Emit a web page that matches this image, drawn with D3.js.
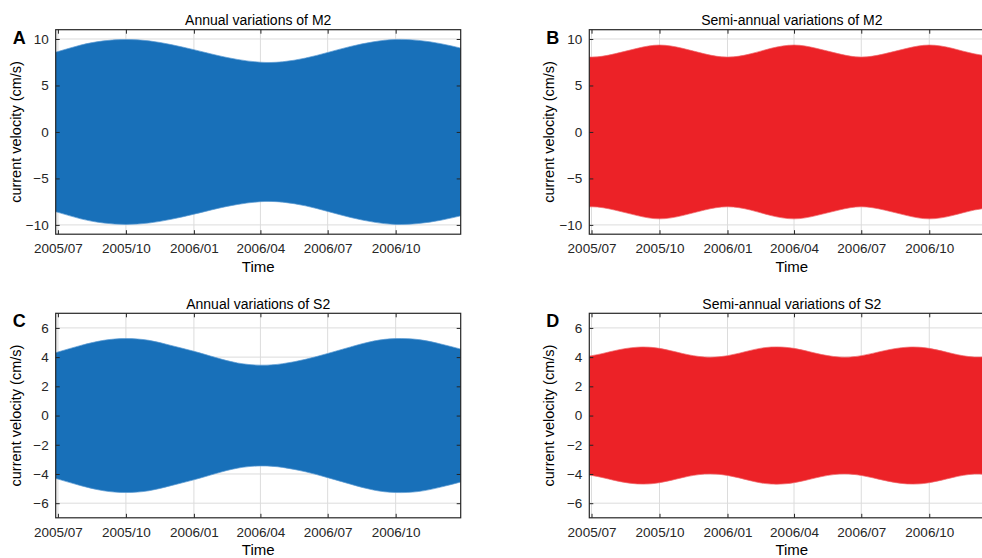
<!DOCTYPE html>
<html>
<head>
<meta charset="utf-8">
<script src="https://cdn.jsdelivr.net/npm/d3@7"></script>
<style>
  html, body { margin: 0; padding: 0; background: #fff; overflow: hidden; }
  svg { display: block; font-family: Arial, "Liberation Sans", Helvetica, sans-serif; }
</style>
</head>
<body>
<svg id="chart" width="982" height="558"></svg>
<script>
// Monthly samples of the tidal current amplitude envelope (cm/s).
const sampleDates = [
  "2005-06-01","2005-07-01","2005-08-01","2005-09-01","2005-10-01","2005-11-01","2005-12-01",
  "2006-01-01","2006-02-01","2006-03-01","2006-04-01","2006-05-01","2006-06-01",
  "2006-07-01","2006-08-01","2006-09-01","2006-10-01","2006-11-01","2006-12-01","2007-01-01"
];
const m2Annual     = [8.05, 8.65, 9.35, 9.8, 9.95, 9.8, 9.4, 8.85, 8.25, 7.8, 7.5, 7.55, 7.95, 8.55, 9.2, 9.7, 9.95, 9.85, 9.5, 8.95];
const m2SemiAnnual = [8.4, 8.05, 8.4, 9.0, 9.35, 9.0, 8.4, 8.05, 8.4, 9.0, 9.35, 9.0, 8.4, 8.05, 8.4, 9.0, 9.35, 9.0, 8.4, 8.05];
const s2Annual     = [3.9, 4.35, 4.8, 5.15, 5.27, 5.15, 4.8, 4.4, 3.95, 3.6, 3.45, 3.55, 3.85, 4.25, 4.7, 5.1, 5.27, 5.2, 4.9, 4.5];
const s2SemiAnnual = [4.02, 4.1, 4.44, 4.68, 4.6, 4.25, 4.01, 4.1, 4.46, 4.69, 4.6, 4.26, 4.01, 4.1, 4.44, 4.68, 4.6, 4.25, 4.01, 4.1];

const timeDomain = ["2005-06-28", "2006-12-28"];
const timeTicks = ["2005-07-01","2005-10-01","2006-01-01","2006-04-01","2006-07-01","2006-10-01"];
const m2Ticks = [-10, -5, 0, 5, 10];
const s2Ticks = [-6, -4, -2, 0, 2, 4, 6];

const panels = [
  { letter: "A", title: "Annual variations of M2",      values: m2Annual,     yMax: 11, yTicks: m2Ticks, color: "#1870b9", edge: "#5c9bd3", x: 55.7,  y: 29.7 },
  { letter: "B", title: "Semi-annual variations of M2", values: m2SemiAnnual, yMax: 11, yTicks: m2Ticks, color: "#ec2227", edge: "#f06a6c", x: 589.3, y: 29.7 },
  { letter: "C", title: "Annual variations of S2",      values: s2Annual,     yMax: 7,  yTicks: s2Ticks, color: "#1870b9", edge: "#5c9bd3", x: 55.7,  y: 313.3 },
  { letter: "D", title: "Semi-annual variations of S2", values: s2SemiAnnual, yMax: 7,  yTicks: s2Ticks, color: "#ec2227", edge: "#f06a6c", x: 589.3, y: 313.3 }
];

const W = 405, H = 204.5;
const axisColor = "#262626";
const parse = d3.timeParse("%Y-%m-%d");
const fmt = d3.timeFormat("%Y/%m");

const svg = d3.select("#chart");

panels.forEach((p, i) => {
  const g = svg.append("g").attr("transform", `translate(${p.x},${p.y})`);

  const x = d3.scaleTime().domain(timeDomain.map(parse)).range([0, W]);
  const y = d3.scaleLinear().domain([-p.yMax, p.yMax]).range([H, 0]);

  const clipId = "clip" + i;
  g.append("clipPath").attr("id", clipId)
    .append("rect").attr("width", W).attr("height", H);

  // grid
  const grid = g.append("g").attr("clip-path", `url(#${clipId})`);
  grid.selectAll("line.gx").data(timeTicks.map(parse)).join("line")
    .attr("x1", d => x(d)).attr("x2", d => x(d))
    .attr("y1", 0).attr("y2", H)
    .attr("stroke", "#dcdcdc").attr("stroke-width", 1);
  grid.selectAll("line.gy").data(p.yTicks).join("line")
    .attr("x1", 0).attr("x2", W)
    .attr("y1", d => y(d)).attr("y2", d => y(d))
    .attr("stroke", "#dcdcdc").attr("stroke-width", 1);

  // envelope of the oscillating current
  const pts = sampleDates.map((d, k) => ({ t: parse(d), v: p.values[k] }));
  const area = d3.area()
    .x(d => x(d.t))
    .y0(d => y(-d.v))
    .y1(d => y(d.v))
    .curve(d3.curveNatural);
  const line = d3.line().x(d => x(d.t)).y(d => y(d.v)).curve(d3.curveNatural);
  const lineLow = d3.line().x(d => x(d.t)).y(d => y(-d.v)).curve(d3.curveNatural);

  const plot = g.append("g").attr("clip-path", `url(#${clipId})`);
  plot.append("path").datum(pts).attr("d", area).attr("fill", p.color);
  plot.append("path").datum(pts).attr("d", line).attr("fill", "none")
    .attr("stroke", p.edge).attr("stroke-width", 1).attr("stroke-opacity", 0.7);
  plot.append("path").datum(pts).attr("d", lineLow).attr("fill", "none")
    .attr("stroke", p.edge).attr("stroke-width", 1).attr("stroke-opacity", 0.7);

  // axes with inward ticks on all four sides
  const tickVals = timeTicks.map(parse);
  const xb = g.append("g").attr("transform", `translate(0,${H})`)
    .call(d3.axisBottom(x).tickValues(tickVals).tickFormat(fmt).tickSizeInner(-4).tickSizeOuter(0).tickPadding(9.5));
  const xt = g.append("g")
    .call(d3.axisTop(x).tickValues(tickVals).tickFormat("").tickSizeInner(-4).tickSizeOuter(0));
  const yl = g.append("g")
    .call(d3.axisLeft(y).tickValues(p.yTicks).tickSizeInner(-4).tickSizeOuter(0).tickPadding(7));
  const yr = g.append("g").attr("transform", `translate(${W},0)`)
    .call(d3.axisRight(y).tickValues(p.yTicks).tickFormat("").tickSizeInner(-4).tickSizeOuter(0));

  [xb, xt, yl, yr].forEach(a => {
    a.select(".domain").remove();
    a.selectAll(".tick line").attr("stroke", axisColor).attr("stroke-width", 1);
    a.selectAll(".tick text").attr("fill", axisColor).attr("font-size", 13.5).attr("font-family", null);
  });

  g.append("rect").attr("width", W).attr("height", H)
    .attr("fill", "none").attr("stroke", axisColor).attr("stroke-width", 1.2);

  // labels
  g.append("text").attr("x", W / 2).attr("y", -4.5).attr("text-anchor", "middle")
    .attr("font-size", 14).attr("fill", "#000").text(p.title);
  g.append("text").attr("x", W / 2).attr("y", H + 37.5).attr("text-anchor", "middle")
    .attr("font-size", 15).attr("fill", "#000").text("Time");
  g.append("text").attr("transform", `translate(${-35},${H / 2}) rotate(-90)`)
    .attr("text-anchor", "middle").attr("font-size", 14.5).attr("fill", "#000")
    .text("current velocity (cm/s)");
  g.append("text").attr("x", -43).attr("y", 14).attr("font-size", 18)
    .attr("font-weight", "bold").attr("fill", "#000").text(p.letter);
});
</script>
</body>
</html>
